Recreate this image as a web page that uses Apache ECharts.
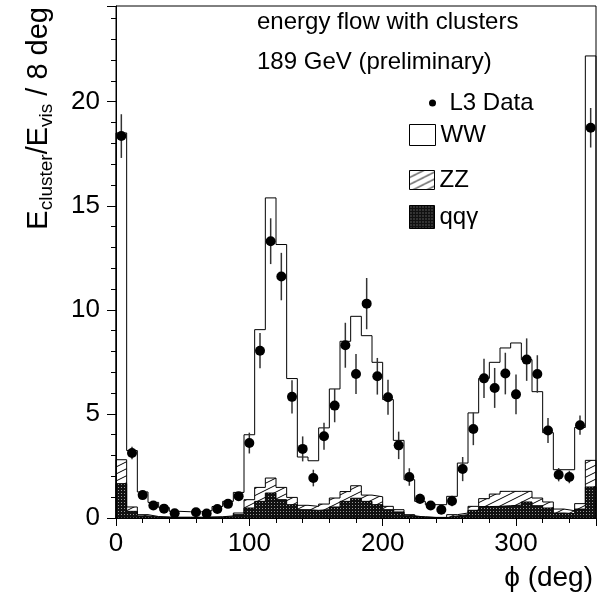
<!DOCTYPE html>
<html><head><meta charset="utf-8">
<script src="https://cdn.jsdelivr.net/npm/echarts@6/dist/echarts.min.js"></script>
<style>html,body{margin:0;padding:0;background:#fff}#c{width:600px;height:601px}</style>
</head><body><div id="c"></div>
<script>
// ---- data (phi bins of 8 deg) ----
const binStarts = [0,8,16,24,32,40,48,56,64,72,80,88,96,104,112,120,128,136,144,152,160,168,176,184,192,200,208,216,224,232,240,248,256,264,272,280,288,296,304,312,320,328,336,344,352];
const binWidth = 8;
const wwValues = [15.70,2.71,1.09,0.68,0.45,0.28,0.26,0.26,0.30,0.49,0.70,0.99,3.12,7.58,13.46,11.67,5.71,2.32,2.19,3.66,5.24,7.22,8.14,7.66,6.46,5.13,3.33,1.68,0.74,0.61,0.61,0.88,2.40,4.49,5.78,6.33,6.89,7.13,6.33,5.11,3.33,1.89,1.97,3.66,19.43];
const zzValues = [1.15,0.21,0.06,0.03,0.02,0.02,0.02,0.02,0.02,0.02,0.04,0.08,0.40,0.67,0.72,0.59,0.35,0.21,0.19,0.27,0.43,0.47,0.60,0.30,0.38,0.16,0.11,0.05,0.02,0.01,0.01,0.06,0.08,0.19,0.38,0.59,0.69,0.66,0.51,0.37,0.29,0.19,0.14,0.26,1.28];
const qqgValues = [1.65,0.32,0.10,0.04,0.03,0.02,0.02,0.02,0.03,0.04,0.06,0.16,0.48,0.80,1.20,0.88,0.64,0.40,0.37,0.40,0.53,0.80,0.95,0.80,0.64,0.40,0.29,0.11,0.04,0.02,0.02,0.10,0.16,0.37,0.55,0.56,0.59,0.62,0.77,0.59,0.48,0.24,0.21,0.43,1.49];
const dataValues = [18.35,3.12,1.10,0.60,0.45,0.23,null,0.28,0.22,0.43,0.68,1.05,3.60,8.04,13.30,11.60,5.82,3.32,1.92,3.93,5.40,8.30,6.92,10.30,6.81,5.80,3.49,1.97,0.92,0.60,0.40,0.82,2.35,4.28,6.71,6.25,6.94,5.94,7.61,6.92,4.20,2.08,1.97,4.46,18.75];
const dataErrors = [1.05,0.30,0.15,0.10,0.10,0.08,0,0.08,0.08,0.10,0.12,0.18,0.50,0.85,1.10,1.14,0.80,0.60,0.40,0.65,0.80,1.08,0.96,1.23,0.88,0.84,0.66,0.42,0.25,0.20,0.15,0.25,0.58,0.78,0.94,0.96,1.00,0.95,1.02,0.90,0.60,0.32,0.30,0.46,0.95];
const xTickLabels = ['0','100','200','300'];
const yTickLabels = ['0','5','10','15','20'];

const FONT = 'Liberation Sans, Arial, Helvetica, sans-serif';

// ---- fill patterns ----
function hatchCanvas(){
  const c=document.createElement('canvas'); c.width=14; c.height=7;
  const g=c.getContext('2d'); g.fillStyle='#fff'; g.fillRect(0,0,14,7);
  g.strokeStyle='#000'; g.lineWidth=1; g.beginPath();
  for(let k=-1;k<=1;k++){ g.moveTo(-14, 14+7*k); g.lineTo(28, -7+7*k); }
  g.stroke(); return c;
}
function dotCanvas(){
  const c=document.createElement('canvas'); c.width=3; c.height=3;
  const g=c.getContext('2d'); g.fillStyle='#111'; g.fillRect(0,0,3,3);
  g.fillStyle='#9a9a9a'; g.fillRect(1,1,1,1); return c;
}
const hatch = {image: hatchCanvas(), repeat:'repeat'};
const dots = {image: dotCanvas(), repeat:'repeat'};

// ---- build step outlines (stacked) ----
function stepData(vals){
  const d=[[binStarts[0],0]];
  for(let i=0;i<vals.length;i++) d.push([binStarts[i], vals[i]]);
  const end = binStarts[binStarts.length-1]+binWidth;
  d.push([end, vals[vals.length-1]]); d.push([end,0]);
  return d;
}
const qTop = qqgValues.slice();
const zTop = qqgValues.map((q,i)=>q+zzValues[i]);
const tTop = zTop.map((h,i)=>h+wwValues[i]);

const points = [], errs = [];
dataValues.forEach((v,i)=>{ if(v!==null){ const c=binStarts[i]+binWidth/2; points.push([c,v]); errs.push([c,v,dataErrors[i]]); } });

const chart = echarts.init(document.getElementById('c'), null, {renderer:'canvas'});
const txt = {color:'#000', fontFamily:FONT};
chart.setOption({
  animation:false,
  backgroundColor:'#fff',
  grid:{left:116, right:4, top:6, bottom:83, show:true, borderColor:'#000', borderWidth:1, z:10, outerBoundsMode:'none'},
  title:[
    {text:'energy flow with clusters', left:257, top:10, padding:0, textStyle:{...txt, fontSize:24, lineHeight:24, fontWeight:'normal'}},
    {text:'189 GeV (preliminary)', left:257, top:50, padding:0, textStyle:{...txt, fontSize:24, lineHeight:24, fontWeight:'normal'}}
  ],
  legend:[
    {data:[{name:'L3 Data', icon:'circle', itemStyle:{color:'#000', borderWidth:0, opacity:1}}], left:429, top:91, itemWidth:24, itemHeight:7, padding:0, selectedMode:false, textStyle:{...txt, fontSize:24, lineHeight:24}},
    {data:[{name:'WW', icon:'rect', itemStyle:{color:'#fff', borderColor:'#000', borderWidth:1}}], left:409, top:123, itemWidth:26, itemHeight:21, padding:0, selectedMode:false, textStyle:{...txt, fontSize:24, lineHeight:21}},
    {data:[{name:'ZZ', icon:'rect', itemStyle:{color:hatch, borderColor:'#000', borderWidth:1}}], left:409, top:168, itemWidth:25, itemHeight:19, padding:0, selectedMode:false, textStyle:{...txt, fontSize:24, lineHeight:19}},
    {data:[{name:'qqγ', icon:'rect', itemStyle:{color:dots, borderColor:'#000', borderWidth:1}}], left:409, top:205, itemWidth:25, itemHeight:23, padding:0, selectedMode:false, textStyle:{...txt, fontSize:24, lineHeight:23}}
  ],
  xAxis:{
    type:'value', min:0, max:360, interval:100, z:10,
    name:'ϕ (deg)', nameLocation:'end', nameGap:-3, nameMoveOverlap:false,
    nameTextStyle:{...txt, fontSize:28, lineHeight:30, align:'right', verticalAlign:'top', padding:[45,0,0,0]},
    axisLine:{lineStyle:{color:'#000', width:1}},
    axisTick:{length:8, lineStyle:{color:'#000'}},
    minorTick:{show:true, splitNumber:5, length:5, lineStyle:{color:'#000'}},
    splitLine:{show:false},
    axisLabel:{...txt, fontSize:26, margin:13, showMaxLabel:false, formatter:(v)=> xTickLabels.includes(String(v)) ? String(v) : ''}
  },
  yAxis:{
    type:'value', min:0, max:24.6, interval:5, z:10,
    name:'{b|E}{s|cluster}{b|/E}{s|vis}{b| / 8 deg}', nameLocation:'end', nameGap:-1, nameRotate:90, nameMoveOverlap:false,
    nameTextStyle:{align:'right', verticalAlign:'bottom', padding:[0,0,60,0],
      rich:{b:{...txt, fontSize:29}, s:{...txt, fontSize:19, padding:[16,0,0,0]}}},
    axisLine:{show:true, lineStyle:{color:'#000', width:1}},
    axisTick:{length:9, lineStyle:{color:'#000'}},
    minorTick:{show:true, splitNumber:5, length:5, lineStyle:{color:'#000'}},
    splitLine:{show:false},
    axisLabel:{...txt, fontSize:26, margin:16, showMaxLabel:false, formatter:(v)=> yTickLabels.includes(String(v)) ? String(v) : ''}
  },
  series:[
    {name:'WW', type:'line', step:'end', data:stepData(tTop), symbol:'none', showSymbol:false,
     lineStyle:{color:'#000', width:1}, itemStyle:{color:'#fff', borderColor:'#000'}, areaStyle:{color:'#fff', opacity:1}},
    {name:'ZZ', type:'line', step:'end', data:stepData(zTop), symbol:'none', showSymbol:false,
     lineStyle:{color:'#000', width:1}, itemStyle:{color:'#000'}, areaStyle:{color:hatch, opacity:1}},
    {name:'qqγ', type:'line', step:'end', data:stepData(qTop), symbol:'none', showSymbol:false,
     lineStyle:{color:'#000', width:1}, itemStyle:{color:'#000'}, areaStyle:{color:dots, opacity:1}},
    {name:'L3 Data errors', type:'custom', data:errs, z:5,
     renderItem:(params, api)=>{
       const x=api.value(0), y=api.value(1), e=api.value(2);
       const p1=api.coord([x,y-e]), p2=api.coord([x,y+e]);
       return {type:'line', shape:{x1:p1[0],y1:p1[1],x2:p2[0],y2:p2[1]}, style:{stroke:'#333', lineWidth:1.5}};
     }, encode:{x:0,y:1}},
    {name:'L3 Data', type:'scatter', data:points, symbol:'circle', symbolSize:10, itemStyle:{color:'#000', opacity:1}, z:6}
  ]
});
</script></body></html>
